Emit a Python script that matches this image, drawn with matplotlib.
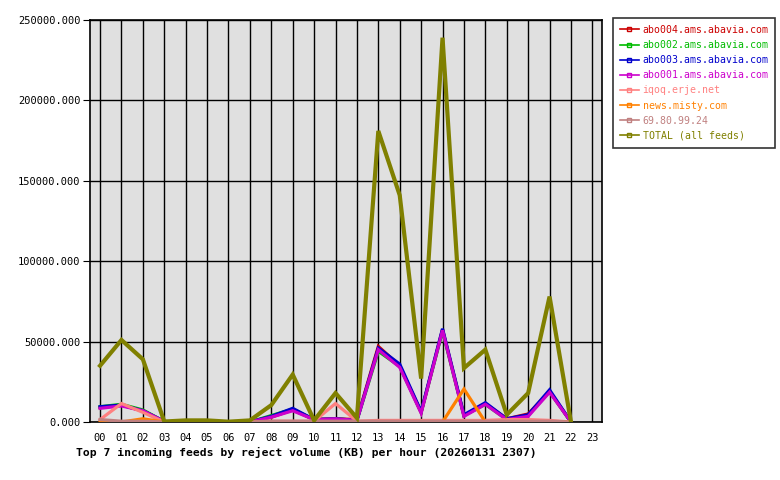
import matplotlib
matplotlib.use("Agg")
import matplotlib.pyplot as plt
from matplotlib.lines import Line2D

hours = list(range(23))
hour_labels = ["%02d" % h for h in range(24)]

abo004 = [9000, 10500, 7000, 300, 0, 0, 0, 0, 3000, 7500, 1500, 2000, 1500, 47000, 35000, 6000, 57500, 4000, 11500, 2000, 5000, 19000, 0]
abo002 = [9500, 11000, 7500, 300, 0, 0, 0, 0, 4000, 8000, 1500, 2000, 1000, 44000, 34500, 6000, 56500, 4000, 11000, 1500, 4000, 19000, 0]
abo003 = [9500, 10500, 7000, 300, 0, 0, 0, 0, 3500, 8500, 1500, 2000, 1000, 46000, 36000, 6500, 58000, 4500, 12000, 2000, 4500, 20000, 0]
abo001 = [8500, 10000, 7000, 300, 0, 0, 0, 0, 3000, 7000, 1500, 2000, 1000, 45000, 34000, 5500, 57000, 3500, 11000, 1500, 3500, 18500, 0]
iqoq = [1500, 11500, 6000, 0, 0, 0, 0, 0, 500, 500, 500, 11500, 500, 1000, 1000, 1000, 1000, 1000, 1000, 1500, 1500, 1000, 0]
misty = [0, 0, 2000, 0, 0, 0, 0, 0, 0, 0, 0, 0, 0, 0, 0, 0, 0, 20500, 0, 0, 0, 0, 0]
ip69 = [1500, 500, 500, 0, 0, 0, 0, 0, 500, 500, 500, 500, 500, 500, 500, 500, 500, 500, 500, 500, 500, 500, 0]
total = [35000, 51000, 39000, 300, 1000, 1000, 200, 1000, 10500, 29500, 1000, 18000, 2500, 181000, 141000, 27000, 239000, 33500, 45000, 4500, 18000, 78000, 0]

names = ["abo004.ams.abavia.com", "abo002.ams.abavia.com", "abo003.ams.abavia.com",
         "abo001.ams.abavia.com", "iqoq.erje.net", "news.misty.com", "69.80.99.24",
         "TOTAL (all feeds)"]
series = [abo004, abo002, abo003, abo001, iqoq, misty, ip69, total]
colors = ["#cc0000", "#00bb00", "#0000cc", "#cc00cc", "#ff8080", "#ff8000", "#c08080", "#808000"]

mono = "DejaVu Sans Mono"
fig = plt.figure(figsize=(7.8, 4.8), dpi=100)
ax = fig.add_axes([90 / 780, 58 / 480, 512 / 780, 402 / 480])
ax.set_facecolor("#e0e0e0")

for s, c, n in zip(series, colors, names):
    lw = 3.0 if n.startswith("TOTAL") else 2.3
    ax.plot(hours, s, color=c, lw=lw, solid_joinstyle="miter", zorder=3)

ax.set_xlim(-0.47, 23.45)
ax.set_ylim(0, 250000)
ax.set_xticks(range(24))
ax.set_xticklabels(hour_labels, fontfamily=mono, fontsize=7.5)
ax.set_yticks(range(0, 250001, 50000))
ax.set_yticklabels(["%.3f" % v for v in range(0, 250001, 50000)], fontfamily=mono, fontsize=7.5)
ax.tick_params(axis="x", length=0, pad=8)
ax.tick_params(axis="y", length=5, pad=2)
ax.grid(True, color="black", lw=1)
ax.set_axisbelow(True)
for sp in ax.spines.values():
    sp.set_linewidth(1.2)

fig.text(76 / 780, 1 - 452 / 480, "Top 7 incoming feeds by reject volume (KB) per hour (20260131 2307)",
         fontfamily=mono, fontweight="bold", fontsize=8.2, va="center", ha="left")

handles = [Line2D([0, 0.5, 1], [0, 0, 0], color=c, lw=1.2, marker="s", markersize=3, markevery=[1],
                  markerfacecolor="none", markeredgecolor=c) for c in colors]
leg = fig.legend(handles, names, loc="upper left", bbox_to_anchor=(613 / 780, 1 - 18 / 480),
                 prop={"family": mono, "size": 7.1}, frameon=True, fancybox=False,
                 edgecolor="black", handlelength=1.9, handletextpad=0.4, labelspacing=0.52,
                 borderpad=0.7, borderaxespad=0)
leg.get_frame().set_linewidth(1.2)
for t, c in zip(leg.get_texts(), colors):
    t.set_color(c)

fig.savefig("out.png", dpi=100)
